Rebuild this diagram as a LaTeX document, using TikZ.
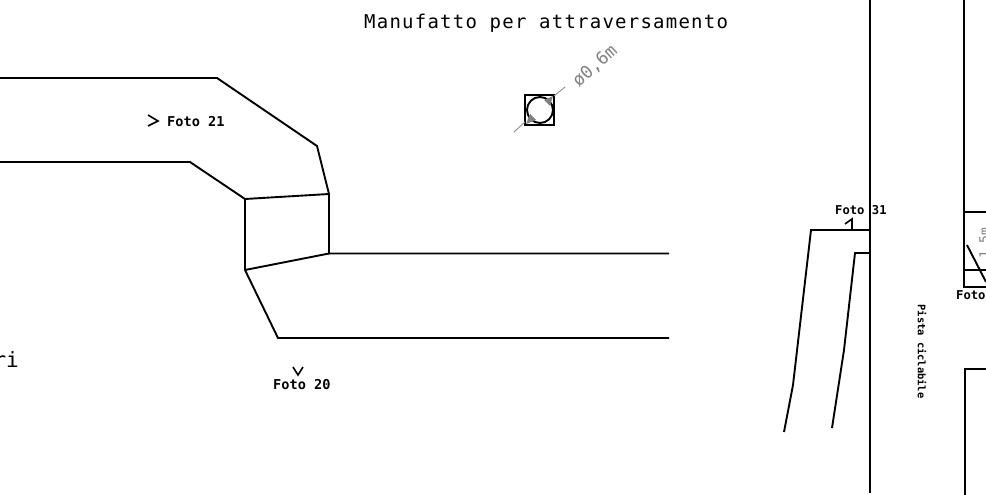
\documentclass[tikz,border=0pt]{standalone}
\usepackage{fontspec}
\setmonofont{DejaVu Sans Mono}
\tikzset{
  wall/.style={line width=1.9pt,black,line join=miter},
  thinwall/.style={line width=1.6pt,black},
  dim/.style={line width=0.9pt,black!45},
  dimtext/.style={text=black!50,inner sep=0pt,font=\ttfamily\fontsize{17.5}{17.5}\selectfont},
  title/.style={inner sep=0pt,font=\ttfamily\fontsize{19}{19}\selectfont\addfontfeature{LetterSpace=6.5}},
  bigletters/.style={inner sep=0pt,font=\ttfamily\fontsize{21}{21}\selectfont},
  foto/.style={inner sep=0pt,font=\ttfamily\bfseries\fontsize{13.6}{13.6}\selectfont},
  fotosm/.style={inner sep=0pt,font=\ttfamily\bfseries\fontsize{12.2}{12.2}\selectfont},
  pista/.style={inner sep=0pt,font=\ttfamily\bfseries\fontsize{10.4}{10.4}\selectfont}
}
\begin{document}
\begin{tikzpicture}[x=1pt,y=-1pt]
\useasboundingbox (0,0) rectangle (986,495);
\clip (0,0) rectangle (986,495);
% channel
\draw[wall] (0,78) -- (217,78) -- (317,146) -- (329,194) -- (329,253.5) -- (669,253.5);
\draw[wall] (0,162) -- (190,162) -- (245,199) -- (245,270) -- (278,338) -- (669,338);
\draw[wall] (245,199) -- (329,194);
\draw[wall] (245,270) -- (329,253.5);
% culvert symbol
\draw[wall] (525,95) rectangle (554,125);
\draw[wall] (540,110) circle (13);
\draw[dim] (514,132) -- (525,122);
\draw[dim] (554,96) -- (565,87);
\fill[black!50] (553,96) -- (544,100) -- (550,106) -- cycle;
\fill[black!50] (526,124) -- (530,114) -- (536,120) -- cycle;
\node[dimtext,rotate=42] (dia) at (595,66) {ø0,6m};
% texts
\node[title,anchor=west] (tit) at (364,23) {Manufatto per attraversamento};
\node[bigletters,anchor=east] (ri) at (19,360) {ri};
\draw[thinwall] (148,115) -- (158,121) -- (148,126);
\node[foto,anchor=west] (f21) at (167,122) {Foto 21};
\draw[thinwall] (293,367) -- (298,375) -- (303,367);
\node[foto,anchor=west] (f20) at (273,385) {Foto 20};
\node[fotosm,anchor=west] (f31) at (835,210) {Foto 31};
\draw[thinwall] (845,224) -- (852,219) -- (852,229);
\node[pista,rotate=-90] (pc) at (922,351.5) {Pista ciclabile};
% right structures
\draw[wall] (870,0) -- (870,493);
\draw[wall] (870,230) -- (811,230) -- (793,385) -- (784,432);
\draw[wall] (870,253) -- (855,253) -- (844,350) -- (832,428);
\draw[wall] (964,0) -- (964,287) -- (986,287);
\draw[wall] (964,212) -- (986,212);
\draw[wall] (964,270) -- (986,270);
\draw[wall] (967,245) -- (986,282);
\node[dimtext,rotate=90,anchor=center,font=\ttfamily\fontsize{13}{13}\selectfont] (q) at (985,243) {1,5m};
\node[fotosm,anchor=west] (f) at (956,295) {Foto};
\draw[wall] (986,369) -- (965,369) -- (965,495);
\end{tikzpicture}
\end{document}
